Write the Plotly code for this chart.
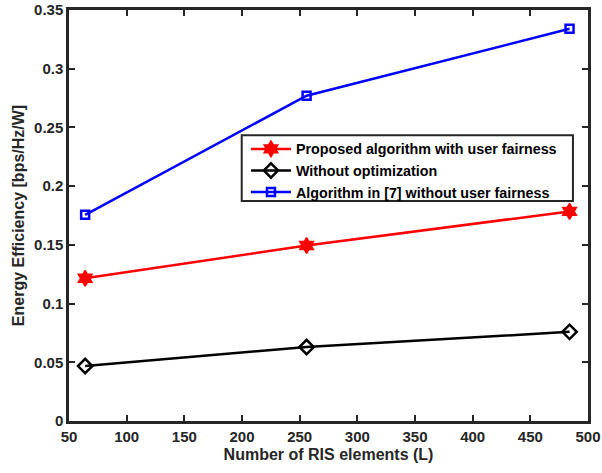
import plotly.graph_objects as go

L_elements = [64, 256, 484]
ee_proposed = [0.1215, 0.1494, 0.1785]
ee_no_opt = [0.0468, 0.0630, 0.0759]
ee_alg7 = [0.1756, 0.2770, 0.3340]

x_ticks = [50, 100, 150, 200, 250, 300, 350, 400, 450, 500]
y_ticks = [0, 0.05, 0.1, 0.15, 0.2, 0.25, 0.3, 0.35]
y_tick_labels = ["0", "0.05", "0.1", "0.15", "0.2", "0.25", "0.3", "0.35"]

names = ["Proposed algorithm with user fairness", "Without optimization",
         "Algorithm in [7] without user fairness"]

FONT = "Liberation Sans, Arial, sans-serif"
AX = "#262626"

fig = go.Figure()
fig.add_trace(go.Scatter(x=L_elements, y=ee_proposed, name=names[0], mode="lines+markers",
                         line=dict(color="#ff0000", width=2.5),
                         marker=dict(symbol="hexagram", size=12, color="#ff0000",
                                     line=dict(width=1.5, color="#ff0000"))))
fig.add_trace(go.Scatter(x=L_elements, y=ee_no_opt, name=names[1], mode="lines+markers",
                         line=dict(color="#000000", width=2.5),
                         marker=dict(symbol="diamond-open", size=11, color="#000000",
                                     line=dict(width=2.5, color="#000000"))))
fig.add_trace(go.Scatter(x=L_elements, y=ee_alg7, name=names[2], mode="lines+markers",
                         line=dict(color="#0000ff", width=2.5),
                         marker=dict(symbol="square-open", size=8, color="#0000ff",
                                     line=dict(width=2.5, color="#0000ff"))))

# legend frame (MATLAB-style box, wider than Plotly's auto legend)
fig.add_shape(type="rect", xref="paper", yref="paper",
              x0=0.3328, x1=0.971, y0=0.5354, y1=0.6955,
              line=dict(color=AX, width=2), fillcolor="white", layer="above")

fig.update_layout(
    width=602, height=473,
    margin=dict(l=69, r=14, t=10, b=52, autoexpand=False),
    paper_bgcolor="white", plot_bgcolor="white",
    font=dict(family=FONT, size=13, color=AX),
    legend=dict(x=0.341, y=0.7005, xanchor="left", yanchor="top",
                borderwidth=0, bgcolor="rgba(0,0,0,0)",
                font=dict(family=FONT, size=14.3, color="#000000", weight="bold"),
                tracegroupgap=0, itemwidth=40),
    showlegend=True,
)
fig.update_xaxes(range=[50, 500], tickvals=x_ticks, ticktext=[str(v) for v in x_ticks],
                 automargin=False,
                 showgrid=False, zeroline=False, showline=True, linecolor=AX, linewidth=2.5,
                 mirror="ticks", ticks="inside", ticklen=6, tickwidth=2, tickcolor=AX,
                 tickfont=dict(family=FONT, size=15, color=AX, weight="bold"),
                 title=dict(text="<b>Number of RIS elements (L)</b>", standoff=6,
                            font=dict(family=FONT, size=16, color=AX)))
fig.update_yaxes(range=[0, 0.35], tickvals=y_ticks, ticktext=y_tick_labels,
                 automargin=False,
                 showgrid=False, zeroline=False, showline=True, linecolor=AX, linewidth=2.5,
                 mirror="ticks", ticks="inside", ticklen=6, tickwidth=2, tickcolor=AX,
                 tickfont=dict(family=FONT, size=15, color=AX, weight="bold"),
                 title=dict(text="<b>Energy Efficiency [bps/Hz/W]</b>", standoff=6,
                            font=dict(family=FONT, size=16, color=AX)))

fig.write_html("out.html", config={"displayModeBar": False},
               post_script="document.body.style.margin='0';document.body.style.overflow='hidden';")
